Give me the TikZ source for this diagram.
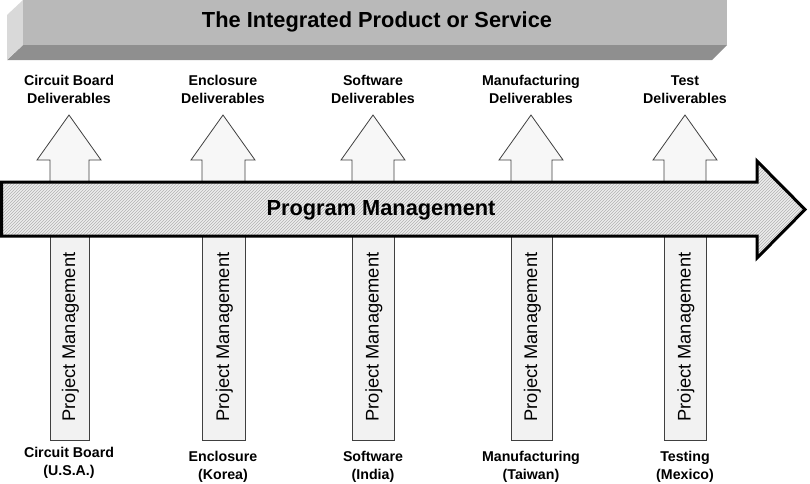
\documentclass[tikz,border=0pt]{standalone}
\usepackage{fontspec}
\setmainfont{Liberation Sans}
\usetikzlibrary{patterns}
\definecolor{barfront}{HTML}{B9B9B9}
\definecolor{barleft}{HTML}{D9D9D9}
\definecolor{barbottom}{HTML}{8F8F8F}
\definecolor{arrowfill}{HTML}{F7F7F7}
\definecolor{pmfill}{HTML}{F2F2F2}
\definecolor{edgegray}{HTML}{404040}
\begin{document}
\begin{tikzpicture}[x=1pt,y=-1pt,
  titletext/.style={font=\bfseries\fontsize{21.8}{24}\selectfont, inner sep=0pt},
  progtext/.style={font=\bfseries\fontsize{21.8}{24}\selectfont, inner sep=0pt},
  label/.style={font=\bfseries\fontsize{14.2}{18}\selectfont, align=center, inner sep=0pt},
  pmtext/.style={font=\fontsize{18.3}{20}\selectfont, rotate=90, inner sep=0pt},
  uparrow/.style={fill=arrowfill, draw=edgegray, line width=0.8pt, line join=miter},
  pmbox/.style={fill=pmfill, draw=edgegray, line width=0.8pt},
  mainarrow/.style={line width=3pt, draw=black, line join=miter,
    preaction={fill=gray!14}, pattern=north east lines, pattern color=gray!60}
]
\useasboundingbox (0,0) rectangle (810,483);
% top 3D bar
\fill[barbottom] (23,45) -- (727,45) -- (712,60) -- (7,60) -- cycle;
\fill[barleft] (7,15) -- (23,0) -- (23,45) -- (7,60) -- cycle;
\fill[barfront] (23,0) rectangle (727,45);
\node[titletext] (title) at (377,22) {The Integrated Product or Service};
% columns
\foreach \n/\sl/\sr/\tip/\ta/\tb/\ba/\bb/\by in {
  cb/50/89/69/Circuit Board/Deliverables/Circuit Board/(U.S.A.)/453,
  en/202/245/223/Enclosure/Deliverables/Enclosure/(Korea)/457,
  sw/352/394/373/Software/Deliverables/Software/(India)/457,
  mf/511/552/531/Manufacturing/Deliverables/Manufacturing/(Taiwan)/457,
  ts/664/706/685/Test/Deliverables/Testing/(Mexico)/457}{
  \filldraw[uparrow] (\sl,184) -- (\sl,160) -- (\tip-32,160) -- (\tip,115)
     -- (\tip+32,160) -- (\sr,160) -- (\sr,184) -- cycle;
  \filldraw[pmbox] (\sl,236) rectangle (\sr,440);
  \node[pmtext] (pm-\n) at ({(\sl+\sr)/2+1},337) {Project Management};
  \node[label] (del-\n) at (\tip,89.5) {\ta\\\tb};
  \node[label] (site-\n) at (\tip,{\by+9.5}) {\ba\\\bb};
}
% main arrow
\draw[mainarrow] (1.5,182) -- (757,182) -- (757,161) -- (805,209.5)
  -- (757,258) -- (757,236) -- (1.5,236) -- cycle;
\node[progtext] (prog) at (381,210) {Program Management};
\end{tikzpicture}
\end{document}
